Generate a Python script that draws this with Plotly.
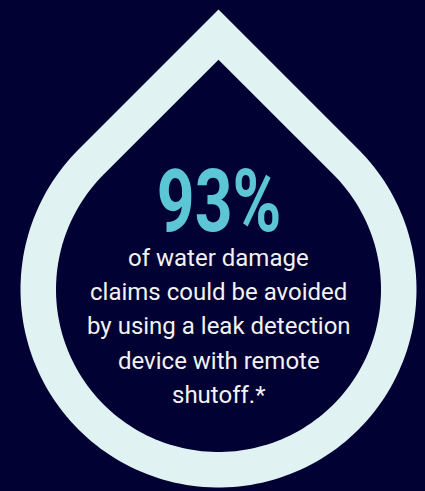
import numpy as np
import plotly.graph_objects as go

# ---- content ----
stat_value = 93
stat_suffix = "%"
description_lines = [
    "of water damage",
    "claims could be avoided",
    "by using a leak detection",
    "device with remote",
    "shutoff.*",
]

W, H = 425, 491
BG = "#010133"
RING = "#E1F2F3"
ACCENT = "#5CC6D6"
TEXT = "#F2F2F2"

cx, cy = 218.5, 289.5
R_out, R_in = 198.0, 162.5


def drop_path(r):
    apex_y = cy - r * np.sqrt(2)
    ang = np.linspace(np.pi * 1.25, -np.pi * 0.25, 160)
    xs = cx + r * np.cos(ang)
    ys = cy + r * np.sin(ang)
    pts = [f"M {cx:.2f},{apex_y:.2f}"]
    for x, y in zip(xs, ys):
        pts.append(f"L {x:.2f},{y:.2f}")
    pts.append("Z")
    return " ".join(pts)


fig = go.Figure()
fig.add_trace(go.Scatter(x=[0, W], y=[0, H], mode="markers", marker=dict(opacity=0),
                         hoverinfo="skip", showlegend=False))

fig.add_shape(type="path", path=drop_path(R_out), fillcolor=RING, line=dict(width=0), layer="below")
fig.add_shape(type="path", path=drop_path(R_in), fillcolor=BG, line=dict(width=0), layer="below")

fig.add_annotation(
    x=cx, y=201, xref="x", yref="y",
    text=f"{stat_value}{stat_suffix}", showarrow=False,
    font=dict(family="Roboto", size=87, color=ACCENT, weight=700),
    xanchor="center", yanchor="middle", name="stat",
)

baseline0 = 266
spacing = 34.2
for i, line in enumerate(description_lines):
    fig.add_annotation(
        x=cx, y=baseline0 + i * spacing - 8, xref="x", yref="y",
        text=line, showarrow=False,
        font=dict(family="Roboto", size=24, color=TEXT),
        xanchor="center", yanchor="middle",
    )

fig.update_layout(
    width=W, height=H,
    margin=dict(l=0, r=0, t=0, b=0),
    paper_bgcolor=BG, plot_bgcolor=BG,
    xaxis=dict(range=[0, W], visible=False, fixedrange=True),
    yaxis=dict(range=[H, 0], visible=False, fixedrange=True),
    showlegend=False,
)

post = """
document.body.style.margin = '0';
document.body.style.background = '%s';
document.documentElement.style.overflow = 'hidden';
var ts = document.querySelectorAll('text.annotation-text');
ts.forEach(function(t){
  if (t.textContent.indexOf('%%') >= 0) {
    t.style.transformBox = 'fill-box';
    t.style.transformOrigin = 'center';
    t.style.transform = 'scaleX(0.76)';
  }
});
""" % BG

fig.write_html("out.html", config={"displayModeBar": False, "staticPlot": True}, post_script=post)
